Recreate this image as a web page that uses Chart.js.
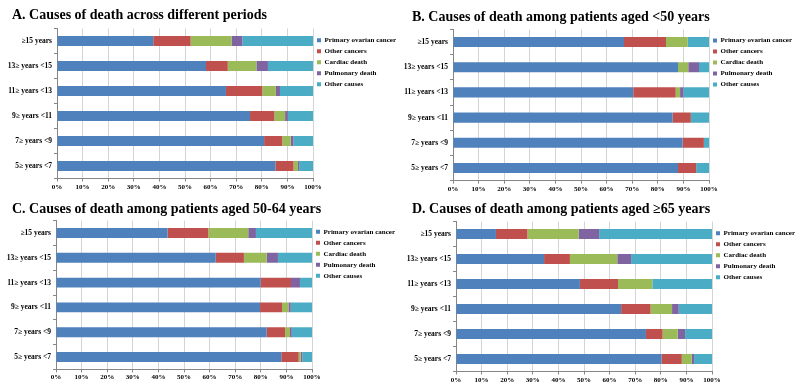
<!DOCTYPE html>
<html>
<head>
<meta charset="utf-8">
<script src="https://cdn.jsdelivr.net/npm/chart.js@4.4.1/dist/chart.umd.min.js"></script>
<style>
  body { margin: 0; background: #fff; }
  #wrap { position: relative; width: 800px; height: 390px; }
  canvas { position: absolute; }
</style>
</head>
<body>
<div id="wrap">
  <canvas id="chartA" width="400" height="195" style="left:0;top:0"></canvas>
  <canvas id="chartB" width="400" height="195" style="left:400px;top:0"></canvas>
  <canvas id="chartC" width="400" height="195" style="left:0;top:195px"></canvas>
  <canvas id="chartD" width="400" height="195" style="left:400px;top:195px"></canvas>
</div>
<script>
// categories, top to bottom
var categories = ['≥15 years', '13≥ years <15', '11≥ years <13', '9≥ years <11', '7≥ years <9', '5≥ years <7'];
var seriesNames = ['Primary ovarian cancer', 'Other cancers', 'Cardiac death', 'Pulmonary death', 'Other causes'];
var seriesColors = ['#4F81BD', '#C0504D', '#9BBB59', '#8064A2', '#4BACC6'];
var xTickValues = [0, 10, 20, 30, 40, 50, 60, 70, 80, 90, 100];

// A. across different periods (%)
var A_primary   = [37.6, 58.2, 66.0, 75.4, 80.9, 85.3];
var A_otherCanc = [14.6, 8.5, 14.2, 9.5, 7.1, 7.1];
var A_cardiac   = [16.0, 11.2, 5.3, 4.2, 3.3, 1.7];
var A_pulmonary = [4.2, 4.5, 1.6, 1.1, 1.1, 0.5];
var A_other     = [27.6, 17.6, 12.9, 9.8, 7.6, 5.4];

// B. aged <50
var B_primary   = [66.8, 87.9, 70.4, 85.8, 89.7, 87.9];
var B_otherCanc = [16.4, 0, 16.6, 7.1, 8.3, 7.1];
var B_cardiac   = [8.5, 4.0, 1.7, 0, 0, 0];
var B_pulmonary = [0, 4.2, 1.3, 0, 0, 0];
var B_other     = [8.3, 3.9, 10.0, 7.1, 2.0, 5.0];

// C. aged 50-64
var C_primary   = [43.6, 62.4, 79.9, 79.7, 82.3, 88.0];
var C_otherCanc = [15.9, 11.0, 11.9, 8.6, 7.2, 6.8];
var C_cardiac   = [15.6, 8.9, 0, 2.5, 1.9, 0.8];
var C_pulmonary = [3.0, 4.4, 3.5, 0.9, 0.7, 0.6];
var C_other     = [21.9, 13.3, 4.7, 8.3, 7.9, 3.8];

// D. aged >=65
var D_primary   = [15.6, 34.4, 48.4, 64.5, 74.2, 80.3];
var D_otherCanc = [12.3, 10.1, 14.9, 11.5, 6.5, 7.9];
var D_cardiac   = [20.0, 18.5, 13.4, 8.4, 5.9, 3.9];
var D_pulmonary = [8.0, 5.4, 0, 2.6, 2.9, 0.9];
var D_other     = [44.1, 31.6, 23.3, 13.0, 10.5, 7.0];

var serif = 'Liberation Serif, Times New Roman, serif';

function makeChart(id, title, series, box) {
    var datasets = series.map(function(vals, i) {
        return {
            label: seriesNames[i],
            data: vals,
            backgroundColor: seriesColors[i],
            borderWidth: 0,
            barPercentage: 0.4,
            categoryPercentage: 1
        };
    });
    var titleSize = 14;
    var half = titleSize * 1.2 / 2;
    return new Chart(document.getElementById(id), {
        type: 'bar',
        data: { labels: categories, datasets: datasets },
        options: {
            indexAxis: 'y',
            responsive: false,
            animation: false,
            layout: { padding: { left: 12, right: 0, top: 0, bottom: 0 } },
            plugins: {
                title: {
                    display: true,
                    text: title,
                    align: 'start',
                    color: '#000',
                    font: { family: serif, size: titleSize, weight: 'bold', lineHeight: 1.2 },
                    padding: { top: box.titleY - half, bottom: box.top - box.titleY - half }
                },
                legend: {
                    position: 'right',
                    align: 'start',
                    fullSize: false,
                    maxWidth: 400 - box.right,
                    // empty title just pushes the items a little lower
                    title: { display: true, text: '', font: { size: 3 }, padding: box.legendGap },
                    labels: {
                        boxWidth: 4,
                        boxHeight: 4,
                        padding: 4,
                        color: '#000',
                        font: { family: serif, size: 7, weight: 'bold' }
                    }
                },
                tooltip: { enabled: false }
            },
            scales: {
                x: {
                    stacked: true,
                    min: 0,
                    max: 100,
                    afterFit: function(s) { s.height = 195 - box.bottom; },
                    afterBuildTicks: function(s) {
                        s.ticks = xTickValues.map(function(v) { return { value: v }; });
                    },
                    grid: { color: '#d4d4d4', tickColor: '#868686', tickLength: 3 },
                    border: { color: '#868686' },
                    ticks: {
                        padding: 1,
                        color: '#000',
                        font: { family: serif, size: 7, weight: 'bold' },
                        callback: function(v) { return v + '%'; }
                    }
                },
                y: {
                    stacked: true,
                    afterFit: function(s) {
                        s.width = box.left - 12;
                        // long labels reach into the left padding, don't clip them
                        s._computeLabelArea = function() { return undefined; };
                    },
                    grid: { drawOnChartArea: false, tickColor: '#868686', tickLength: 3 },
                    border: { color: '#868686' },
                    ticks: {
                        padding: 2,
                        color: '#000',
                        font: { family: serif, size: 7.5, weight: 'bold' }
                    }
                }
            }
        }
    });
}

makeChart('chartA', 'A. Causes of death across different periods',
    [A_primary, A_otherCanc, A_cardiac, A_pulmonary, A_other],
    { left: 57, right: 313, top: 28.5, bottom: 178.5, titleY: 15, legendGap: 0.3 });
makeChart('chartB', 'B. Causes of death among patients aged <50 years',
    [B_primary, B_otherCanc, B_cardiac, B_pulmonary, B_other],
    { left: 53, right: 309, top: 29.4, bottom: 180.6, titleY: 17, legendGap: 0 });
makeChart('chartC', 'C. Causes of death among patients aged 50-64 years',
    [C_primary, C_otherCanc, C_cardiac, C_pulmonary, C_other],
    { left: 56, right: 312, top: 25.6, bottom: 174.4, titleY: 14, legendGap: 0 });
makeChart('chartD', 'D. Causes of death among patients aged ≥65 years',
    [D_primary, D_otherCanc, D_cardiac, D_pulmonary, D_other],
    { left: 56, right: 312, top: 26.5, bottom: 176.5, titleY: 14, legendGap: 0.3 });
</script>
</body>
</html>
